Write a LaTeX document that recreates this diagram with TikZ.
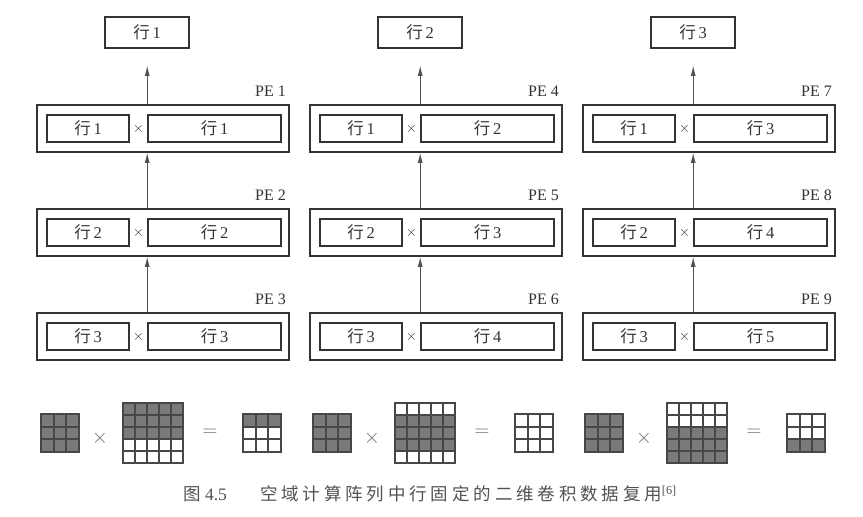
\documentclass[tikz,border=0pt]{standalone}
\usepackage{fontspec}
\setmainfont{Liberation Serif}
\newfontfamily\cjk{Noto Sans CJK SC}
\newfontfamily\capcjk[LetterSpace=22]{Noto Sans CJK SC}
\usetikzlibrary{arrows.meta}
\definecolor{inkgray}{HTML}{333333}
\definecolor{cellgray}{HTML}{7A7A7A}

\begin{document}
\begin{tikzpicture}[
        x=1pt,y=-1pt,
        every node/.style={
            inner sep=0pt,text=inkgray,
            font=\fontsize{16.5}{19}\selectfont
        },
        pebox/.style={draw=inkgray,line width=1.8pt,minimum width=252pt,minimum height=47pt},
        rowbox/.style={draw=inkgray,line width=1.6pt,minimum height=27pt},
        outbox/.style={draw=inkgray,line width=1.6pt,minimum width=84pt,minimum height=31pt},
        arr/.style={-{Latex[length=10pt,width=5pt]},draw=inkgray!85,line width=0.8pt},
        cell/.style={draw=inkgray!90,line width=2pt}
    ]
\useasboundingbox (0,0) rectangle (863,517);
% PE array
\foreach \c in {0,1,2}{
    \pgfmathsetmacro{\dx}{273*\c}
    \pgfmathtruncatemacro{\colno}{\c+1}
    \node[outbox] (out-\c) at (147+\dx,32.5) {{\cjk 行}\,\colno};
    \foreach \r in {0,1,2}{
        \pgfmathtruncatemacro{\lft}{\r+1}
        \pgfmathtruncatemacro{\rgt}{\c+\r+1}
        \pgfmathtruncatemacro{\pe}{3*\c+\r+1}
        \pgfmathsetmacro{\yy}{128.5+104*\r}
        \node[pebox] (pe-\c-\r) at (163+\dx,\yy) {};
        \node[rowbox,minimum width=82pt] (a-\c-\r) at (88+\dx,\yy) {{\cjk 行}\,\lft};
        \node[rowbox,minimum width=133pt] (b-\c-\r) at (214.5+\dx,\yy) {{\cjk 行}\,\rgt};
        \node[font=\fontsize{15}{15}\selectfont] (x-\c-\r) at (138.5+\dx,\yy) {$\times$};
        \node[anchor=base east,font=\fontsize{16}{19}\selectfont] (lab-\c-\r) at (286+\dx,\yy-32.5) {PE \pe};
    }
% Arrows
    \draw[arr,shorten >=17pt] (b-\c-0.west |- pe-\c-0.north) -- (b-\c-0.west |- out-\c.south);
    \foreach \r/\s in {1/0,2/1}{
        \draw[arr] (b-\c-\r.west |- pe-\c-\r.north) -- (b-\c-\r.west |- pe-\c-\s.south);
    }
}
% Convolution grids
\foreach \c/\gfrom/\gto/\ofrom in {0/1/3/1,1/2/4/0,2/3/5/3}{
    \pgfmathsetmacro{\gx}{41+272*\c}
    \fill[cellgray] (\gx,414) rectangle ++(37.5,37.5);
    \foreach \i in {0,1,2}{
        \foreach \j in {0,1,2}{
            \draw[cell] ({\gx+12.5*\i},{414+12.5*\j}) rectangle ++(12.5,12.5);
        }
    }
    \fill[cellgray] ({\gx+82},{403+12*(\gfrom-1)}) rectangle ({\gx+142},{403+12*\gto});
    \foreach \i in {0,...,4}{
        \foreach \j in {0,...,4}{
            \draw[cell] ({\gx+82+12*\i},{403+12*\j}) rectangle ++(12,12);
        }
    }
    \ifnum\ofrom>0
        \fill[cellgray] ({\gx+202},{414+12.5*(\ofrom-1)}) rectangle ++(37.5,12.5);
    \fi
    \foreach \i in {0,1,2}{
        \foreach \j in {0,1,2}{
            \draw[cell] ({\gx+202+12.5*\i},{414+12.5*\j}) rectangle ++(12.5,12.5);
        }
    }
    \node[text=inkgray!70,font=\fontsize{22}{22}\selectfont] (times-\c) at (\gx+59,438) {$\times$};
    \node[text=inkgray!70,font=\fontsize{22}{22}\selectfont] (eq-\c) at (\gx+169,433) {$=$};
}
% Caption
\node[anchor=west,text=inkgray!85,font=\fontsize{17.5}{20}\selectfont] (cap) at (183,494)
    {{\cjk 图}\ 4.5\hspace{1.9em}{\capcjk 空域计算阵列中行固定的二维卷积数据复用}\textsuperscript{[6]}};
\end{tikzpicture}
\end{document}
